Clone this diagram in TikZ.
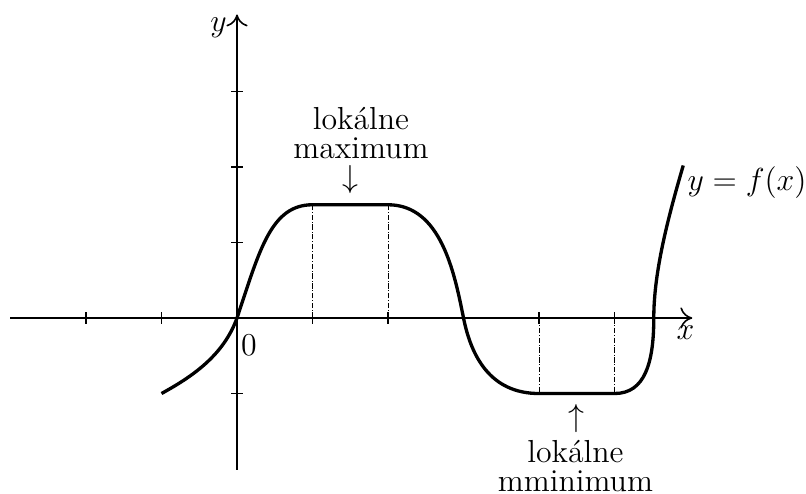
\documentclass[tikz,border=0pt]{standalone}
\usetikzlibrary{arrows.meta}
\tikzset{
  axis/.style={line width=0.6pt,-{To[length=4.5pt,width=8pt]}},
  tick/.style={line width=0.6pt},
  graph/.style={line width=1.25pt,line join=round},
  guide/.style={line width=0.3pt,dash pattern=on 2pt off 0.7pt on 0.3pt off 0.7pt},
  lbl/.style={inner sep=0pt,font=\large},
  note/.style={inner sep=0pt,align=center,font=\fontsize{12}{10.9}\selectfont},
}
\begin{document}
\begin{tikzpicture}
\useasboundingbox (-3.139,-2.318) rectangle (7.536,4.212);
% axes
\coordinate (xs) at (-3,0);
\coordinate (xe) at (6.03,0);
\coordinate (ys) at (0,-2.01);
\coordinate (ye) at (0,4.02);
\draw[axis] (xs) -- (xe);
\draw[axis] (ys) -- (ye);
% ticks
\foreach \t in {-2,-1,1,2,4,5} \draw[tick] (\t,-0.075) -- (\t,0.075);
\foreach \t in {-1,1,2,3} \draw[tick] (-0.075,\t) -- (0.075,\t);
% guides
\draw[guide] (1,0) -- (1,1.5);
\draw[guide] (2,0) -- (2,1.5);
\draw[guide] (4,0) -- (4,-1);
\draw[guide] (5,0) -- (5,-1);
% graph
\coordinate (g0) at (-1,-1);
\coordinate (g1) at (0,0);
\coordinate (g2) at (1,1.5);
\coordinate (g3) at (2,1.5);
\coordinate (g4) at (3,0);
\coordinate (g5) at (4,-1);
\coordinate (g6) at (5,-1);
\coordinate (g7) at (5.52,0);
\coordinate (g8) at (5.91,2.02);
\draw[graph] (g0) .. controls (-0.6,-0.78) and (-0.18,-0.5) .. (g1)
  .. controls (0.3,0.9) and (0.45,1.5) .. (g2) -- (g3)
  .. controls (2.7,1.5) and (2.88,0.6) .. (g4)
  .. controls (3.1,-0.5) and (3.35,-1) .. (g5) -- (g6)
  .. controls (5.4,-1) and (5.52,-0.6) .. (g7)
  .. controls (5.52,0.6) and (5.7,1.3) .. (g8);
% labels
\node[lbl,anchor=base] (xl) at (5.94,-0.29) {$x$};
\node[lbl,anchor=base] (yl) at (-0.245,3.80) {$y$};
\node[lbl,anchor=base] (ol) at (0.159,-0.503) {$0$};
\node[lbl,anchor=base west] (fl) at (5.96,1.695) {$y=f(x)$};
\node[note,anchor=north] (maxl) at (1.642,2.799) {lokálne\\maximum};
\node[lbl] (maxa) at (1.5,1.828) {$\downarrow$};
\node[note,anchor=north] (minl) at (4.483,-1.615) {lokálne\\mminimum};
\node[lbl] (mina) at (4.5,-1.331) {$\uparrow$};
\end{tikzpicture}
\end{document}
